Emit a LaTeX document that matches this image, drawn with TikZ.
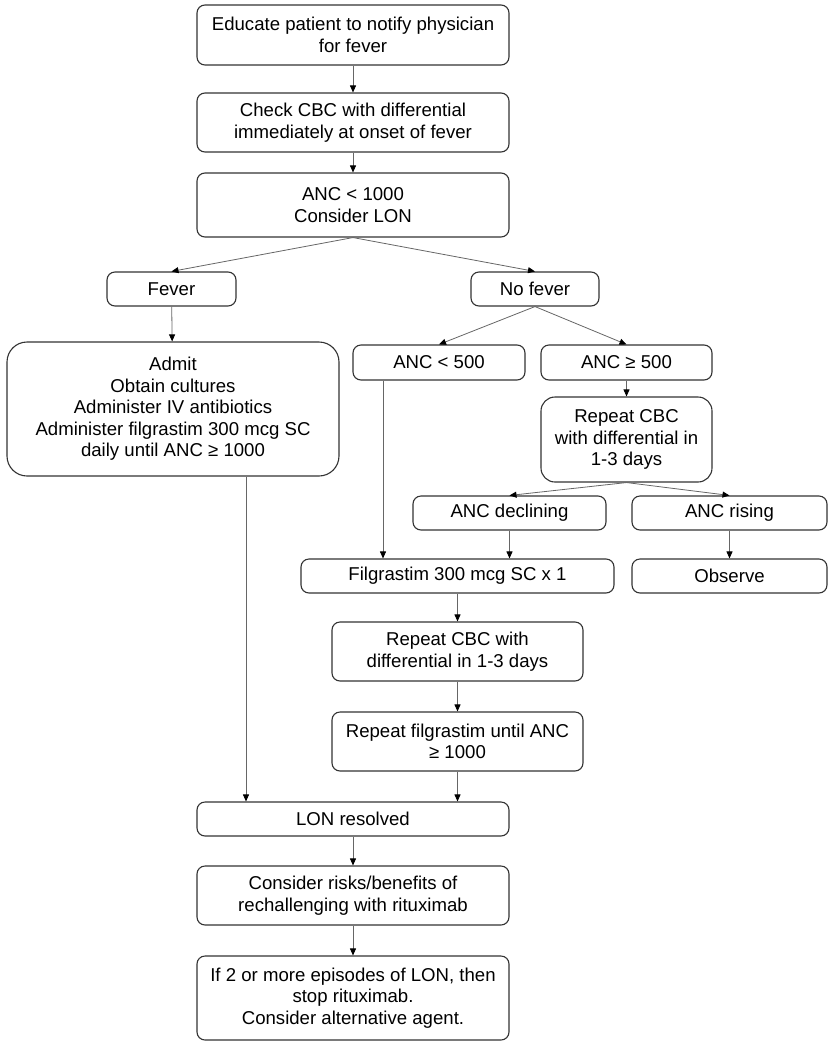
\documentclass[tikz,border=0pt]{standalone}
\usepackage{fontspec}
\setmainfont{Liberation Sans}
\usetikzlibrary{arrows.meta}

\tikzset{etape/.style = {draw = black!80, line width = 1.1pt, rounded corners = #1,
                         inner sep = 0pt, align = center,
                         font = \fontsize{18.6}{21.5}\selectfont},
         etape/.default = 8pt,
         fleche/.style = {draw = black!60, line width = 0.8pt,
                          -{Triangle[length=7pt,width=6pt,black]}}
        }

\begin{document}
\begin{tikzpicture}[x=1pt,y=-1pt]
\useasboundingbox (0,0) rectangle (837,1050);
\tikzstyle{every node}=[etape]
\node[minimum width=312, minimum height=60] at (353,35) (educ) {Educate patient to notify physician\\for fever};
\node[minimum width=312, minimum height=59] at (353,122.5) (cbc) {Check CBC with differential\\immediately at onset of fever};
\node[minimum width=312, minimum height=64] at (353,205) (anc1000) {ANC < 1000\\Consider LON};
\node[minimum width=129, minimum height=34] at (171.5,289) (fev) {Fever};
\node[minimum width=128, minimum height=34] at (535,289) (nofev) {No fever};
\node[etape=20pt, minimum width=332, minimum height=134] at (173,409) (admit) {Admit\\Obtain cultures\\Administer IV antibiotics\\Administer filgrastim 300 mcg SC\\daily until ANC ≥ 1000};
\node[minimum width=172, minimum height=35] at (439,362.5) (anclt) {ANC < 500};
\node[minimum width=171, minimum height=35] at (626.5,362.5) (ancge) {ANC ≥ 500};
\node[etape=14pt, minimum width=171, minimum height=85] at (626.5,439.5) (rep1) {Repeat CBC\\with differential in\\1-3 days};
\node[minimum width=193, minimum height=34] at (509.5,513) (decl) {ANC declining};
\node[minimum width=195, minimum height=34] at (729.5,513) (ris) {ANC rising};
\node[minimum width=313, minimum height=34] at (457.5,576) (filg) {Filgrastim 300 mcg SC x 1};
\node[minimum width=195, minimum height=34] at (729.5,576) (obs) {Observe};
\node[minimum width=251, minimum height=59] at (457.5,651.5) (rep2) {Repeat CBC with\\differential in 1-3 days};
\node[minimum width=251, minimum height=59] at (457.5,741.5) (repfilg) {Repeat filgrastim until ANC\\≥ 1000};
\node[minimum width=312, minimum height=34] at (353,819) (lon) {LON resolved};
\node[minimum width=312, minimum height=59] at (353,895.5) (risk) {Consider risks/benefits of\\rechallenging with rituximab};
\node[minimum width=312, minimum height=84] at (353,998) (stop) {If 2 or more episodes of LON, then\\stop rituximab.\\Consider alternative agent.};

\draw[fleche] (educ) -- (cbc);
\draw[fleche] (cbc) -- (anc1000);
\draw[fleche] (anc1000.south) -- (fev.north);
\draw[fleche] (anc1000.south) -- (nofev.north);
\draw[fleche] (fev) -- (admit);
\draw[fleche] (nofev.south) -- (anclt.north);
\draw[fleche] (nofev.south) -- (ancge.north);
\draw[fleche] ([xshift=-56]anclt.south) -- ([xshift=-56]anclt.south |- filg.north);
\draw[fleche] (ancge) -- (rep1);
\draw[fleche] (rep1.south) -- (decl.north);
\draw[fleche] (rep1.south) -- (ris.north);
\draw[fleche] (decl.south) -- (decl.south |- filg.north);
\draw[fleche] (ris) -- (obs);
\draw[fleche] (filg) -- (rep2);
\draw[fleche] (rep2) -- (repfilg);
\draw[fleche] (repfilg.south) -- (repfilg.south |- lon.north);
\draw[fleche] ([xshift=73]admit.south) -- ([xshift=73]admit.south |- lon.north);
\draw[fleche] (lon) -- (risk);
\draw[fleche] (risk) -- (stop);
\end{tikzpicture}
\end{document}
